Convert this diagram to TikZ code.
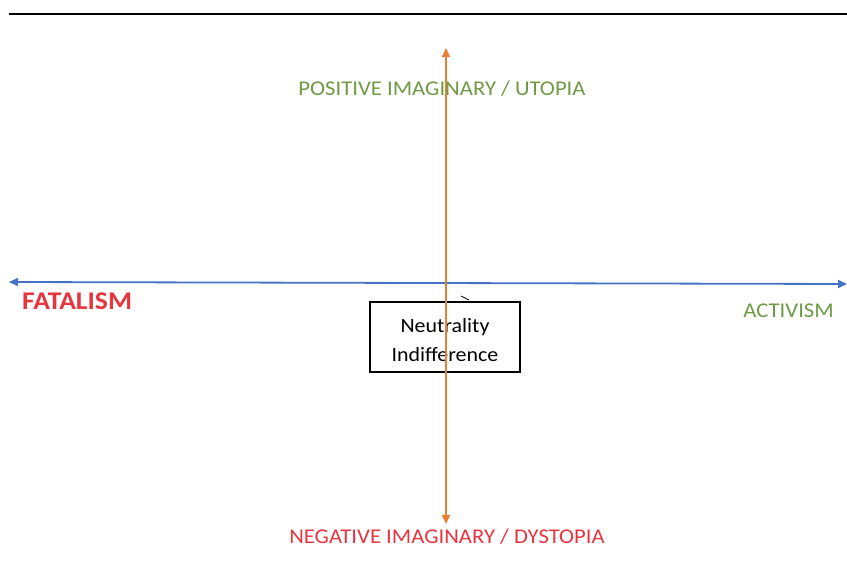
\documentclass[tikz,border=0pt]{standalone}
\usepackage{fontspec}
\setmainfont{Carlito}[FakeStretch=1.08]
\usetikzlibrary{arrows.meta}
\definecolor{axblue}{HTML}{4472C4}
\definecolor{axorange}{HTML}{ED7D31}
\definecolor{lblgreen}{HTML}{6F9A45}
\definecolor{lblred}{HTML}{E8343F}
\tikzset{
  lbl/.style={inner sep=0pt, font=\fontsize{21}{24}\selectfont},
  boxnode/.style={draw=black, line width=1.2pt, minimum width=150pt, minimum height=70pt, inner sep=0pt},
  axis/.style={line width=1.8pt, {Triangle[length=9pt,width=8pt]}-{Triangle[length=9pt,width=8pt]}},
}
\begin{document}
\begin{tikzpicture}[x=1pt,y=-1pt]
\useasboundingbox (0,0) rectangle (847,567);
\coordinate (tl) at (9,14);
\coordinate (tr) at (847,14);
\draw[line width=2pt] (tl) -- (tr);
\coordinate (hl) at (9,282);
\coordinate (hr) at (847,284);
\draw[axis, axblue] (hl) -- (hr);
\node[boxnode, fill=white] (box) at (445,337) {};
\node[inner sep=0pt, align=center, font=\fontsize{20.3}{29}\selectfont] (boxtext) at (445,340) {Neutrality\\Indifference};
\coordinate (vt) at (446,48);
\coordinate (vb) at (446,524);
\draw[axis, axorange, line width=1.5pt] (vt) -- (vb);
\coordinate (m1) at (461,296);
\coordinate (m2) at (469,300);
\draw[line width=0.8pt] (m1) -- (m2);
\node[lbl, text=lblgreen] (pos) at (442,89) {POSITIVE IMAGINARY / UTOPIA};
\node[lbl, text=lblred] (neg) at (447,537) {NEGATIVE IMAGINARY / DYSTOPIA};
\node[lbl, text=lblred, font=\fontsize{25.5}{27}\selectfont\bfseries, anchor=west] (fat) at (22,301) {FATALISM};
\node[lbl, text=lblgreen, anchor=east] (act) at (834,311) {ACTIVISM};
\end{tikzpicture}
\end{document}
